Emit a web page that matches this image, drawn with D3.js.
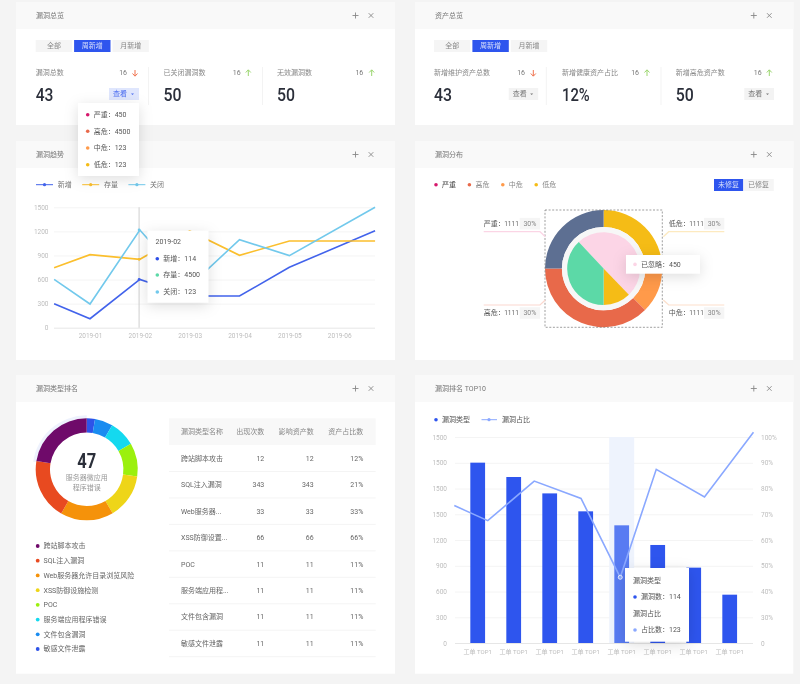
<!DOCTYPE html>
<html lang="zh">
<head>
<meta charset="UTF-8">
<title>漏洞总览</title>
<script src="https://d3js.org/d3.v7.min.js"></script>
<style>
    html, body { margin: 0; padding: 0; background: #f4f4f4; overflow: hidden; }
    svg { display: block; font-family: Roboto, "Noto Sans CJK SC", sans-serif; filter: blur(0.4px); }
    .tip { filter: drop-shadow(0 3px 7px rgba(0, 0, 0, 0.13)); }
    .domain { display: none; }
</style>
</head>
<body>
<script>
    // 趋势图数据
    const months = ["2019-01", "2019-02", "2019-03", "2019-04", "2019-05", "2019-06"];
    const trendPos = [-0.72, 0, 1, 2, 3, 4, 5.72];   // 折线在月份轴上的位置，两端超出月份
    const trendNew = [299, 112, 602, 395, 395, 752, 1209];
    const trendStock = [748, 910, 852, 1205, 902, 1080, 1080];
    const trendClosed = [602, 295, 1217, 519, 1097, 898, 1500];
    const trendTicks = [0, 300, 600, 900, 1200, 1500];

    // 分布图数据
    const outerLevels = ["低危", "中危", "高危", "严重"];
    const outerValues = [25, 12.5, 37.5, 25];
    const innerLevels = ["已忽略", "低危", "已修复"];
    const innerValues = [179, 44, 137];

    // 类型排名数据
    const typeNames = ["跨站脚本攻击", "SQL注入漏洞", "Web服务器允许目录浏览风险", "XSS防御设施检测", "POC", "服务端应用程序错误", "文件包含漏洞", "敏感文件泄露"];
    const typeShares = [80.5, 69.5, 60.6, 51.4, 38, 30, 20.6, 9.4];
    const tableNames = ["跨站脚本攻击", "SQL注入漏洞", "Web服务器...", "XSS防御设置...", "POC", "服务端应用程...", "文件包含漏洞", "敏感文件泄露"];
    const tableCounts = [12, 343, 33, 66, 11, 11, 11, 11];
    const tableAssets = [12, 343, 33, 66, 11, 11, 11, 11];
    const tableRatios = ["12%", "21%", "33%", "66%", "11%", "11%", "11%", "11%"];

    // TOP10 数据
    const topNames = ["a", "b", "c", "d", "e", "f", "g", "h"];
    const topBars = [2101, 1934, 1743, 1534, 1371, 1142, 878, 563];
    const topLinePos = [-0.65, 0.28, 1.57, 2.87, 3.96, 4.96, 6.3, 7.66];
    const topLine = [66.7, 59.4, 78.6, 70.2, 31.9, 84.3, 70.9, 102.3];
    const topLeftTicks = [0, 300, 600, 900, 1200, 1500, 1800, 2100, 2400];
    const topLeftLabels = ["0", "300", "600", "900", "1200", "1500", "1500", "1500", "1500"];
    const topRightLabels = ["0", "30%", "40%", "50%", "60%", "70%", "80%", "90%", "100%"];

    const BLUE = "#2e55ee", TXT = "#666a75", DARK = "#2b2f3a", MUTE = "#bdbdbd";
    const RED = "#d6186c", ORANGE_RED = "#e8694a", ORANGE = "#ff9a4a", YELLOW = "#f5bc16";

    const svg = d3.select("body").append("svg").attr("width", 800).attr("height", 684);

    function text(g, x, y, str, o) {
        o = o || {};
        const t = g.append("text").attr("x", x).attr("y", y).attr("dy", "0.35em")
            .attr("font-size", o.size || 7).attr("fill", o.fill || TXT)
            .attr("text-anchor", o.anchor || "start").text(str);
        if (o.weight) t.attr("font-weight", o.weight);
        if (o.width) t.attr("textLength", o.width).attr("lengthAdjust", "spacingAndGlyphs");
        return t;
    }

    // d3 轴默认写死 sans-serif，这里去掉
    function styleAxis(g, size) {
        g.attr("font-family", null);
        g.selectAll("text").attr("fill", MUTE).attr("font-size", size || 6.5);
    }

    function panel(x, y, w, h, title) {
        svg.append("rect").attr("x", x).attr("y", y).attr("width", w).attr("height", h).attr("fill", "#fff");
        svg.append("rect").attr("x", x).attr("y", y).attr("width", w).attr("height", 27).attr("fill", "#f9f9f9");
        text(svg, x + 20, y + 13.5, title, { fill: "#777" });
        const cy = y + 13.5, px = x + w - 39.5, cx = x + w - 24;
        svg.append("path").attr("stroke", "#888").attr("stroke-width", 0.9).attr("fill", "none")
            .attr("d", `M${px - 3},${cy}h6M${px},${cy - 3}v6M${cx - 2.3},${cy - 2.3}l4.6,4.6M${cx + 2.3},${cy - 2.3}l-4.6,4.6`);
    }

    function tabs(x, y) {
        ["全部", "周新增", "月新增"].forEach((s, i) => {
            const tx = x + i * 38.4;
            svg.append("rect").attr("x", tx).attr("y", y).attr("width", 36.4).attr("height", 12)
                .attr("fill", i === 1 ? BLUE : "#f5f5f5");
            text(svg, tx + 18.2, y + 6, s, { anchor: "middle", fill: i === 1 ? "#d5ddfb" : "#888" });
        });
    }

    function stat(lx, label, value, valueW, numR, arrowX, up) {
        text(svg, lx, 73, label, { fill: "#888" });
        text(svg, lx, 94.3, value, { size: 19, fill: DARK, weight: 500, width: valueW });
        text(svg, numR, 73, "16", { anchor: "end", fill: "#777" });
        const c = up ? "#9bd66f" : "#f0734f";
        const d = up ? `M${arrowX},76v-6M${arrowX - 2.5},72.5l2.5,-2.7l2.5,2.7`
                     : `M${arrowX},70v6M${arrowX - 2.5},73.5l2.5,2.7l2.5,-2.7`;
        svg.append("path").attr("d", d).attr("fill", "none").attr("stroke", c).attr("stroke-width", 1);
    }

    function viewBtn(x, w, active) {
        svg.append("rect").attr("x", x).attr("y", 88).attr("width", w).attr("height", 12)
            .attr("fill", active ? "#dfe6fd" : "#f3f3f3");
        text(svg, x + 4, 94, "查看", { fill: active ? "#4a6cf0" : "#777" });
        svg.append("path").attr("d", `M${x + w - 8},93.5h3l-1.5,1.6z`).attr("fill", active ? "#4a6cf0" : "#777");
    }

    function divider(x) {
        svg.append("line").attr("x1", x).attr("x2", x).attr("y1", 67).attr("y2", 105).attr("stroke", "#f3f3f3");
    }

    panel(16, 2, 379, 123, "漏洞总览");
    panel(415, 2, 378.3, 123, "资产总览");
    panel(16, 141, 379, 219, "漏洞趋势");
    panel(415, 141, 378.3, 219, "漏洞分布");
    panel(16, 375, 379, 298.7, "漏洞类型排名");
    panel(415, 375, 378.3, 298.7, "漏洞排名 TOP10");

    // 顶部两个总览
    tabs(35.7, 40);
    tabs(434, 40);
    stat(35.7, "漏洞总数", "43", 17.7, 127, 135, false);
    stat(163.5, "已关闭漏洞数", "50", 18, 240.7, 248.3, true);
    stat(277, "无效漏洞数", "50", 18, 363.3, 371.7, true);
    stat(434, "新增维护资产总数", "43", 18, 525, 533.3, false);
    stat(562, "新增健康资产占比", "12%", 27.7, 639, 647, true);
    stat(675.7, "新增高危资产数", "50", 18, 761.7, 769.3, true);
    [148.5, 262.5, 546.3, 661].forEach(divider);
    viewBtn(109, 30, true);
    viewBtn(508.7, 29.5, false);
    viewBtn(744.3, 29.7, false);

    // 趋势折线图
    const tx = d3.scaleLinear().domain([0, 5]).range([90, 339.2]);
    const ty = d3.scaleLinear().domain([0, 1500]).range([327.7, 207.3]);
    const trendG = svg.append("g");
    const yAxisG = trendG.append("g").attr("transform", "translate(54,0)")
        .call(d3.axisLeft(ty).tickValues(trendTicks).tickFormat(d3.format("d")).tickSize(-321).tickPadding(5.5));
    yAxisG.selectAll("line").attr("stroke", d => d === 0 ? "#e6e6e6" : "#f4f4f4");
    styleAxis(yAxisG);
    const xAxisG = trendG.append("g").attr("transform", "translate(0,327.7)")
        .call(d3.axisBottom(tx).tickValues(d3.range(months.length)).tickFormat(i => months[i]).tickSize(0).tickPadding(6));
    styleAxis(xAxisG);

    trendG.append("line").attr("x1", tx(0.985)).attr("x2", tx(0.985)).attr("y1", ty(1500)).attr("y2", ty(0)).attr("stroke", "#cfcfcf");

    const trendSeries = [
        { name: "新增", values: trendNew, color: "#4263eb" },
        { name: "存量", values: trendStock, color: "#fbbf2d" },
        { name: "关闭", values: trendClosed, color: "#72c9ec" }
    ];
    const trendLine = d3.line().x((d, i) => tx(trendPos[i])).y(d => ty(d));
    trendSeries.forEach((s, i) => {
        trendG.append("path").attr("d", trendLine(s.values)).attr("fill", "none")
            .attr("stroke", s.color).attr("stroke-width", 1.6);
        trendG.append("circle").attr("cx", tx(0.985)).attr("cy", ty(s.values[2])).attr("r", 1.4).attr("fill", s.color);
        const lx = 36 + i * 46.2;
        trendG.append("line").attr("x1", lx).attr("x2", lx + 17).attr("y1", 184.7).attr("y2", 184.7).attr("stroke", s.color);
        trendG.append("circle").attr("cx", lx + 8.5).attr("cy", 184.7).attr("r", 1.6).attr("fill", s.color);
        text(trendG, lx + 21.7, 184.7, s.name, { fill: "#777" });
    });

    // 分布环图
    const pieC = [603.6, 268.6];
    const pieG = svg.append("g").attr("transform", `translate(${pieC})`);
    const outerColors = [YELLOW, ORANGE, ORANGE_RED, "#5d6f92"];
    pieG.selectAll(".outer").data(d3.pie().sort(null)(outerValues)).enter().append("path")
        .attr("d", d3.arc().innerRadius(41.7).outerRadius(58.6)).attr("fill", (d, i) => outerColors[i]);
    pieG.append("circle").attr("r", 41.7).attr("fill", "#f7f7f7");
    const innerColors = ["#fcd5e6", YELLOW, "#5cd9a7"];
    const innerStart = -43 * Math.PI / 180;
    pieG.selectAll(".inner")
        .data(d3.pie().sort(null).startAngle(innerStart).endAngle(innerStart + 2 * Math.PI)(innerValues))
        .enter().append("path")
        .attr("d", d3.arc().innerRadius(0).outerRadius(36.4)).attr("fill", (d, i) => innerColors[i]);
    svg.append("rect").attr("x", 545).attr("y", 210).attr("width", 117.3).attr("height", 117.3)
        .attr("fill", "none").attr("stroke", "#777").attr("stroke-width", 0.7).attr("stroke-dasharray", "2,1.6");

    [["严重", RED], ["高危", ORANGE_RED], ["中危", ORANGE], ["低危", YELLOW]].forEach((d, i) => {
        const lx = 436 + i * 33.4;
        svg.append("circle").attr("cx", lx).attr("cy", 184.7).attr("r", 1.8).attr("fill", d[1]);
        text(svg, lx + 6, 184.7, d[0], { fill: i === 0 ? "#444" : "#888" });
    });
    svg.append("rect").attr("x", 714).attr("y", 179).attr("width", 29.3).attr("height", 12).attr("fill", BLUE);
    svg.append("rect").attr("x", 743.3).attr("y", 179).attr("width", 30.5).attr("height", 12).attr("fill", "#f5f5f5");
    text(svg, 728.6, 185, "未修复", { anchor: "middle", fill: "#d5ddfb" });
    text(svg, 758.5, 185, "已修复", { anchor: "middle", fill: "#888" });

    function callout(name, left, top, color) {
        const labelY = top ? 223.7 : 313;
        const lineY = top ? 231.7 : 305;
        const endY = top ? 236.7 : 300;
        const lx = left ? 483.7 : 668.7;
        const bx = left ? 519.7 : 704;
        text(svg, lx, labelY, name + "：", { fill: "#555" });
        text(svg, lx + 20.5, labelY, "1111", { fill: "#666", size: 6.5 });
        svg.append("rect").attr("x", bx).attr("y", labelY - 5.8).attr("width", 20.3).attr("height", 11.6).attr("fill", "#f5f5f5");
        text(svg, bx + 10.2, labelY, "30%", { anchor: "middle", fill: "#888", size: 7 });
        const d = left ? `M483.7,${lineY}H540L545.3,${endY}` : `M724.3,${lineY}H668.7L663.3,${endY}`;
        svg.append("path").attr("d", d).attr("fill", "none").attr("stroke", color).attr("stroke-width", 1.2);
    }
    callout("严重", true, true, "#fbd5e5");
    callout("高危", true, false, "#fbd8cf");
    callout("低危", false, true, "#fdeac0");
    callout("中危", false, false, "#fde0cc");

    // 类型排名环图
    const typeColors = ["#6f0a6a", "#e84a20", "#f5920a", "#eed518", "#9bf00e", "#14d9ef", "#1a8cf0", "#2e53e8"];
    const ringG = svg.append("g").attr("transform", "translate(86.7,469.3)");
    ringG.append("path").attr("fill", "#eef2fd")
        .attr("d", d3.arc().innerRadius(50).outerRadius(54).startAngle(-82 * Math.PI / 180).endAngle(0)());
    const ringData = typeShares.map((v, i) => ({ v, c: typeColors[i] })).reverse();
    ringG.selectAll(".seg").data(d3.pie().sort(null).value(d => d.v)(ringData)).enter().append("path")
        .attr("d", d3.arc().innerRadius(36.7).outerRadius(51)).attr("fill", d => d.data.c);
    text(ringG, 0, -8.3, "47", { size: 21, fill: DARK, weight: 700, anchor: "middle", width: 19 });
    text(ringG, 0, 8, "服务器微应用", { anchor: "middle", fill: "#999" });
    text(ringG, 0, 18, "程序错误", { anchor: "middle", fill: "#999" });

    const legendY = d3.scalePoint().domain(typeNames).range([546, 649]);
    typeNames.forEach((s, i) => {
        svg.append("circle").attr("cx", 37.7).attr("cy", legendY(s)).attr("r", 1.9).attr("fill", typeColors[i]);
        text(svg, 43.5, legendY(s), s, { fill: "#666" });
    });

    // 类型排名表格
    svg.append("rect").attr("x", 169).attr("y", 418.3).attr("width", 206.7).attr("height", 26.7).attr("fill", "#f8f8f8");
    const headY = 431.6;
    text(svg, 181, headY, "漏洞类型名称", { fill: "#888" });
    text(svg, 264.3, headY, "出现次数", { fill: "#888", anchor: "end" });
    text(svg, 313.7, headY, "影响资产数", { fill: "#888", anchor: "end" });
    text(svg, 363.3, headY, "资产占比数", { fill: "#888", anchor: "end" });
    const rowY = d3.scaleBand().domain(d3.range(tableNames.length)).range([445, 656.7]);
    tableNames.forEach((s, i) => {
        const y = rowY(i) + rowY.bandwidth() / 2;
        text(svg, 181, y, s, { fill: "#666" });
        text(svg, 264.3, y, tableCounts[i], { fill: "#666", anchor: "end" });
        text(svg, 313.7, y, tableAssets[i], { fill: "#666", anchor: "end" });
        text(svg, 363.3, y, tableRatios[i], { fill: "#666", anchor: "end" });
        svg.append("line").attr("x1", 169).attr("x2", 375.7).attr("y1", rowY(i) + rowY.bandwidth()).attr("y2", rowY(i) + rowY.bandwidth())
            .attr("stroke", "#f4f4f4");
    });

    // TOP10 柱线图
    const bx = d3.scaleBand().domain(topNames).range([459.7, 747.7]).paddingInner(0.59).paddingOuter(0.295);
    const by = d3.scaleLinear().domain([0, 2400]).range([643, 437]);
    const ry = d3.scaleLinear().domain([0, 100]).range([643, 437]);
    const lx = d3.scaleLinear().domain([0, 7]).range([bx(topNames[0]) + bx.bandwidth() / 2, bx(topNames[7]) + bx.bandwidth() / 2]);
    const topG = svg.append("g");
    const leftG = topG.append("g").attr("transform", "translate(455,0)")
        .call(d3.axisLeft(by).tickValues(topLeftTicks).tickFormat((d, i) => topLeftLabels[i]).tickSize(-298).tickPadding(8));
    leftG.selectAll("line").attr("stroke", d => d === 0 ? "#e6e6e6" : "#f4f4f4");
    styleAxis(leftG);
    const rightG = topG.append("g").attr("transform", "translate(753,0)")
        .call(d3.axisRight(ry).tickValues(d3.range(0, 101, 12.5)).tickFormat((d, i) => topRightLabels[i]).tickSize(0).tickPadding(8));
    styleAxis(rightG);
    const bottomG = topG.append("g").attr("transform", "translate(0,643)")
        .call(d3.axisBottom(bx).tickFormat(() => "工单 TOP1").tickSize(0).tickPadding(6.5));
    styleAxis(bottomG, 6);

    topG.append("rect").attr("x", bx(topNames[4]) + bx.bandwidth() / 2 - 12.5).attr("y", by(2400))
        .attr("width", 25).attr("height", by(0) - by(2400)).attr("fill", "#eef3fd");
    topG.selectAll(".bar").data(topBars).enter().append("rect")
        .attr("x", (d, i) => bx(topNames[i])).attr("y", d => by(d))
        .attr("width", bx.bandwidth()).attr("height", d => by(0) - by(d))
        .attr("fill", (d, i) => i === 4 ? "#587bf2" : BLUE);
    const topPath = d3.line().x((d, i) => lx(topLinePos[i])).y(d => ry(d));
    topG.append("path").attr("d", topPath(topLine)).attr("fill", "none").attr("stroke", "#8aa8ff").attr("stroke-width", 1.6);
    topG.append("circle").attr("cx", lx(topLinePos[4])).attr("cy", ry(topLine[4])).attr("r", 2)
        .attr("fill", "#8aa8ff").attr("stroke", "#fff").attr("stroke-width", 0.8);

    svg.append("circle").attr("cx", 436).attr("cy", 419.7).attr("r", 1.8).attr("fill", BLUE);
    text(svg, 442, 419.7, "漏洞类型", { fill: "#555" });
    svg.append("line").attr("x1", 481.5).attr("x2", 497).attr("y1", 419.7).attr("y2", 419.7).attr("stroke", "#8aa8ff");
    svg.append("circle").attr("cx", 489).attr("cy", 419.7).attr("r", 1.6).attr("fill", "#8aa8ff");
    text(svg, 502, 419.7, "漏洞占比", { fill: "#555" });

    // 浮层，最后画以盖住图表
    function tipBox(x, y, w, h) {
        return svg.append("g").attr("class", "tip").append("rect")
            .attr("x", x).attr("y", y).attr("width", w).attr("height", h).attr("fill", "#fff");
    }
    function tipRow(x, y, color, str) {
        svg.append("circle").attr("cx", x).attr("cy", y).attr("r", 1.8).attr("fill", color);
        text(svg, x + 6, y, str, { fill: "#555" });
    }

    tipBox(78, 103, 61, 73);
    tipRow(87.7, 114.7, RED, "严重：450");
    tipRow(87.7, 131.3, ORANGE_RED, "高危：4500");
    tipRow(87.7, 148, ORANGE, "中危：123");
    tipRow(87.7, 164.7, YELLOW, "低危：123");

    tipBox(147.5, 230.7, 61, 72);
    text(svg, 155.5, 241.7, "2019-02", { fill: "#555" });
    tipRow(157.3, 258.7, "#2e4fe8", "新增：114");
    tipRow(157.3, 275, "#5cd9a7", "存量：4500");
    tipRow(157.3, 292, "#72c9ec", "关闭：123");

    tipBox(626, 255, 74, 18.7);
    tipRow(635, 264.4, "#fcd5e6", "已忽略：450");

    tipBox(625, 568, 64, 73.7);
    text(svg, 633, 580.7, "漏洞类型", { fill: "#555" });
    tipRow(635, 597, BLUE, "漏洞数：114");
    text(svg, 633, 613.7, "漏洞占比", { fill: "#555" });
    tipRow(635, 630, "#8aa8ff", "占比数：123");
</script>
</body>
</html>
